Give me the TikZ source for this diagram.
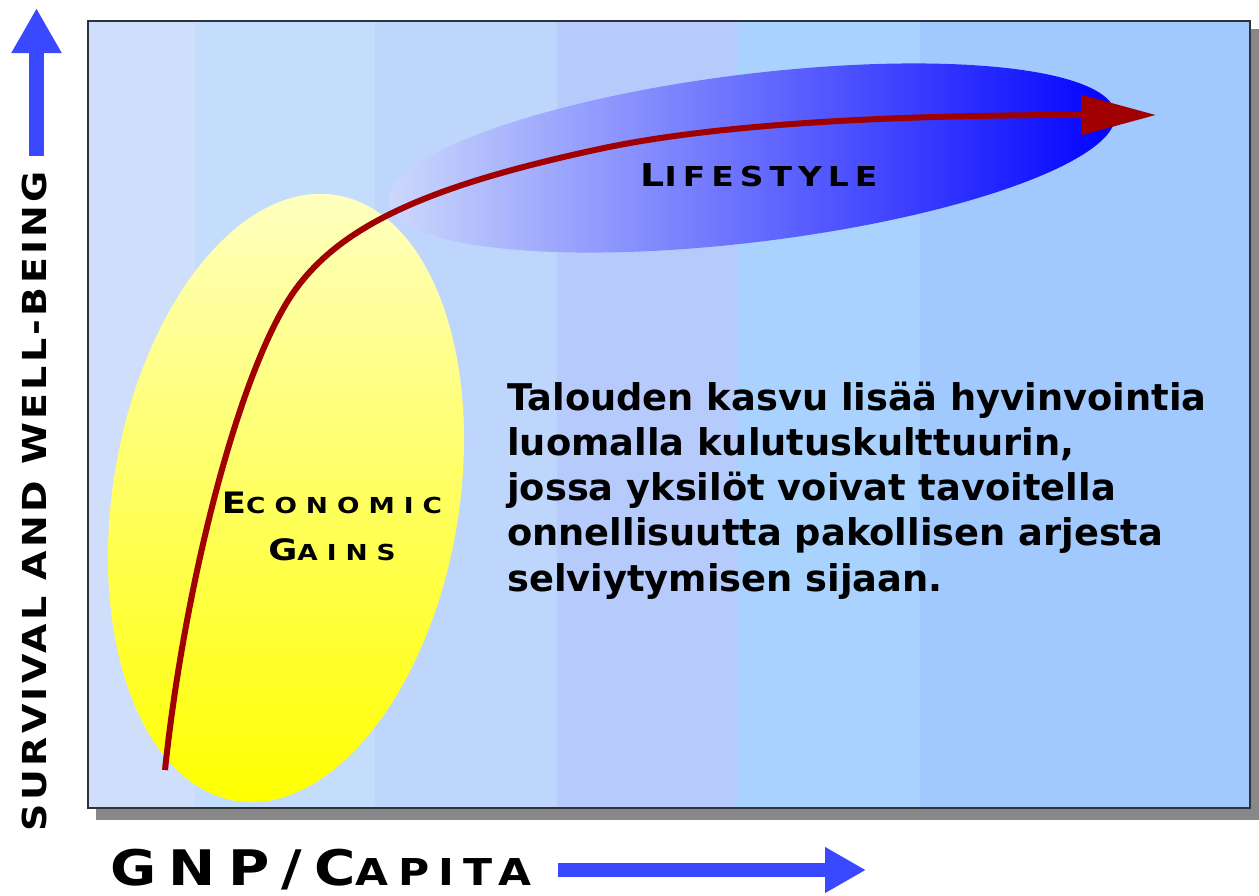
\documentclass[tikz,border=0pt]{standalone}
\usepackage{fontspec}
\setmainfont{DejaVu Sans}
\newfontfamily\platefont{DejaVu Sans}
\usepackage{tikz}
\usetikzlibrary{arrows.meta, calc, positioning}

\definecolor{bandA}{RGB}{207,222,251}
\definecolor{bandB}{RGB}{197,221,252}
\definecolor{bandC}{RGB}{190,214,252}
\definecolor{bandD}{RGB}{182,203,252}
\definecolor{bandE}{RGB}{169,211,254}
\definecolor{bandF}{RGB}{162,201,253}
\definecolor{shadowgray}{RGB}{136,136,136}
\definecolor{framegray}{RGB}{45,50,62}
\definecolor{axisblue}{RGB}{58,72,255}
\definecolor{curvered}{RGB}{160,0,0}
\definecolor{paleyellow}{RGB}{255,255,196}
\definecolor{gainyellow}{RGB}{255,255,0}
\definecolor{lifepale}{RGB}{205,218,252}
\definecolor{lifeblue}{RGB}{0,0,255}

% big first letters, smaller rest; #1 = extra font features
\newcommand{\platecaps}[5][]{%
  {\platefont\bfseries\addfontfeatures{#1}\fontsize{#2}{#2}\selectfont #4}%
  {\platefont\bfseries\addfontfeatures{#1}\fontsize{#3}{#3}\selectfont #5}}

\begin{document}
\begin{tikzpicture}[x=1pt,y=-1pt,>=Stealth]
  \useasboundingbox (0,0) rectangle (1259,895);
  % ---- chart area: shadow, bands, frame ----
  \fill[shadowgray] (96,29) rectangle (1259,820);
  \foreach \xa/\xb/\col in {88/195/bandA, 195/375/bandB, 375/557/bandC,
                            557/738/bandD, 738/920/bandE, 920/1250/bandF} {
    \fill[\col] (\xa,21) rectangle (\xb,808);
  }
  % ---- lifestyle and economic gains blobs ----
  \shade[rotate around={7:(752,158)}, left color=lifepale, right color=lifeblue]
    (752,158) ellipse [x radius=366pt, y radius=84pt];
  \shade[rotate around={-9.5:(286,498)}, top color=paleyellow, bottom color=gainyellow]
    (286,498) ellipse [x radius=173pt, y radius=307pt];
  \draw[framegray, line width=1.6pt] (88,21) rectangle (1250,808);
  % ---- growth curve ----
  \coordinate (start) at (165,770);
  \coordinate (knee) at (293,293);
  \coordinate (flat) at (604,148);
  \coordinate (tip) at (1156,115);
  \draw[curvered, line width=6pt, -{Triangle[length=75pt,width=39pt]}]
    (start) .. controls (185,580) and (240,370) .. (knee)
            .. controls (340,225) and (430,185) .. (flat)
            .. controls (700,128) and (850,115) .. (tip);
  % ---- labels ----
  \node[inner sep=0] (lifestyle) at (759,175)
    {\platecaps[FakeStretch=1.2,LetterSpace=22]{31.5}{27.4}{L}{IFESTYLE}};
  \node[inner sep=0] (economic) at (332,503)
    {\platecaps[FakeStretch=1.2,LetterSpace=41]{29.5}{22}{E}{CONOMIC}};
  \node[inner sep=0] (gains) at (332,550)
    {\platecaps[FakeStretch=1.2,LetterSpace=41]{29.5}{22}{G}{AINS}};
  \node[anchor=base west, align=left, inner sep=0,
        font=\bfseries\fontsize{36.8}{45.25}\selectfont] (caption) at (507,591)
    {Talouden kasvu lisää hyvinvointia\\
     luomalla kulutuskulttuurin,\\
     jossa yksilöt voivat tavoitella\\
     onnellisuutta pakollisen arjesta\\
     selviytymisen sijaan.};
  % ---- axes ----
  \coordinate (ybot) at (36.5,156);
  \coordinate (ytop) at (36.5,8);
  \draw[axisblue, line width=15pt, -{Triangle[length=45pt,width=47pt]}] (ybot) -- (ytop);
  \node[rotate=90, anchor=base, inner sep=0] (ylabel) at (46,501)
    {\platecaps[FakeStretch=1.15,LetterSpace=10]{33}{33}{S}{URVIVAL AND WELL-BEING}};
  \node[anchor=base west, inner sep=0] (xlabel) at (110,885)
    {\platecaps[FakeStretch=1.15,LetterSpace=25]{49}{37}{GNP/C}{APITA}};
  \coordinate (xleft) at (558,870);
  \coordinate (xright) at (866,870);
  \draw[axisblue, line width=14pt, -{Triangle[length=41pt,width=43pt]}] (xleft) -- (xright);
\end{tikzpicture}
\end{document}
